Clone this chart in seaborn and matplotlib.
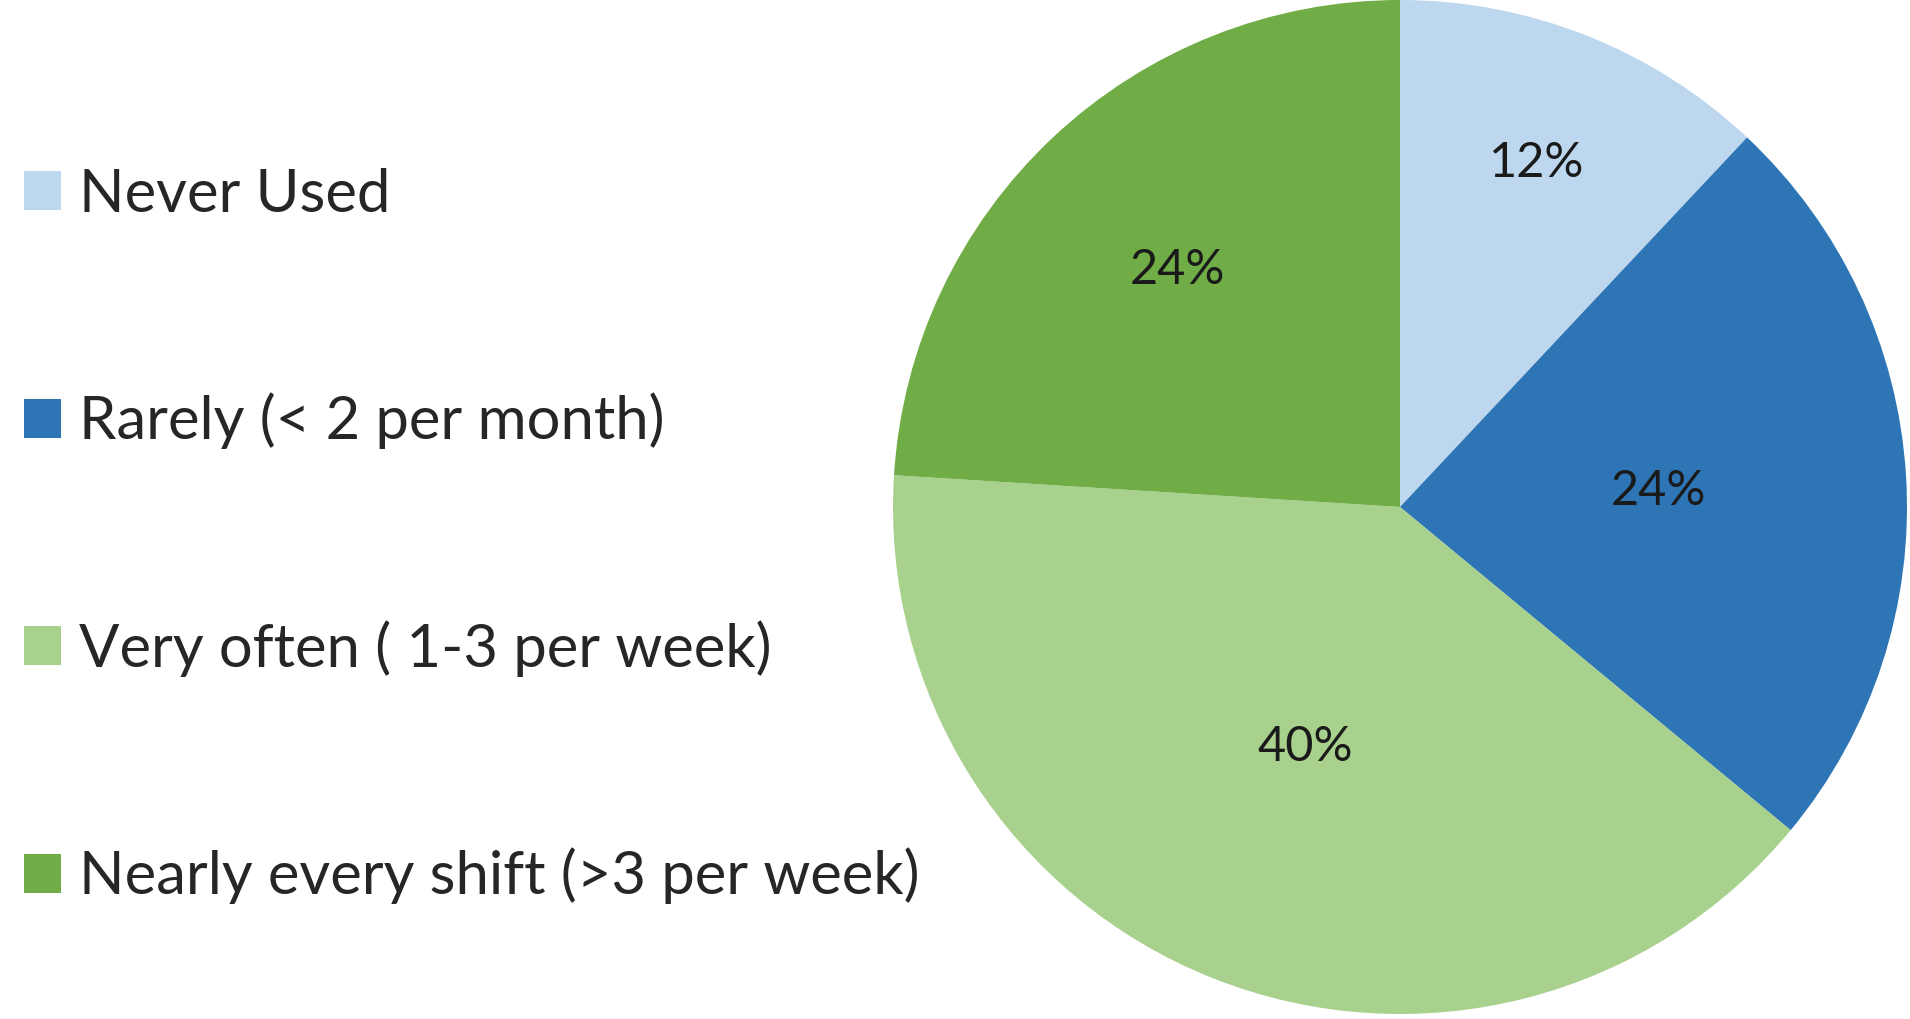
import numpy as np
import matplotlib
matplotlib.use("Agg")
import matplotlib.pyplot as plt
import seaborn as sns
from matplotlib.patches import Patch

sns.set_theme(style="white")
plt.rcParams['font.family'] = ['Lato', 'DejaVu Sans']

categories = ["Never Used", "Rarely (< 2 per month)", "Very often ( 1-3 per week)",
              "Nearly every shift (>3 per week)"]
values = [12, 24, 40, 24]
colors = ["#BDD7EE", "#2E75B6", "#A9D18E", "#70AD47"]
label_radius = [0.73, 0.51, 0.51, 0.64]

W, H = 1910, 1019
fig = plt.figure(figsize=(W / 100, H / 100), dpi=100)
fig.patch.set_facecolor("white")

cx, cy, r = 1400, 507, 507
ax = fig.add_axes([(cx - r) / W, (H - cy - r) / H, 2 * r / W, 2 * r / H])
wedges, _ = ax.pie(values, colors=colors, startangle=90, counterclock=False,
                   wedgeprops=dict(linewidth=0, edgecolor="none"), radius=1.0)
ax.set_xlim(-1, 1)
ax.set_ylim(-1, 1)
ax.set_aspect("equal")
ax.axis("off")

total = sum(values)
for w, v, rf in zip(wedges, values, label_radius):
    ang = np.deg2rad((w.theta1 + w.theta2) / 2)
    ax.text(rf * np.cos(ang), rf * np.sin(ang), f"{round(100 * v / total)}%",
            ha="center", va="center", fontsize=35, color="#1a1a1a")

handles = [Patch(facecolor=c, edgecolor="none") for c in colors]
fig.legend(handles, categories, loc="center left", bbox_to_anchor=(24 / W, 0.474),
           frameon=False, fontsize=43, handlelength=0.62, handleheight=0.62,
           handletextpad=0.3, labelspacing=2.86, borderaxespad=0, borderpad=0)

fig.savefig("out.png", dpi=100, facecolor="white")
